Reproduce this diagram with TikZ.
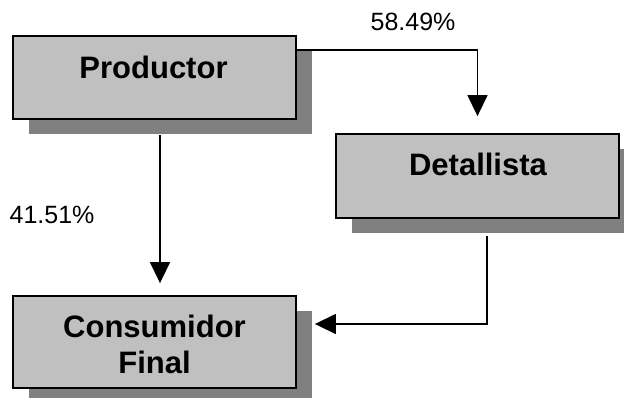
\documentclass[tikz,border=0pt]{standalone}
\usepackage{fontspec}
\setmainfont{Liberation Sans}
\usetikzlibrary{arrows.meta,shadows}
\definecolor{boxfill}{HTML}{C0C0C0}
\definecolor{boxshade}{HTML}{808080}
\begin{document}
\begin{tikzpicture}[x=1pt,y=-1pt,
  stagebox/.style={draw=black, line width=1.8pt, fill=boxfill,
    inner sep=0pt, minimum width=283pt,
    drop shadow={shadow xshift=16pt, shadow yshift=-15pt, fill=boxshade, opacity=1}},
  boxtext/.style={font=\fontsize{31}{36}\selectfont\bfseries, align=center, inner sep=0pt},
  pct/.style={font=\fontsize{25}{30}\selectfont, inner sep=0pt},
  flow/.style={line width=1.4pt, -{Triangle[length=21pt,width=20pt]}}]
\useasboundingbox (0,0) rectangle (624,397);

% stage boxes
\node[stagebox, minimum height=83pt] (prod) at (154.5,77.5) {};
\node[stagebox, minimum height=84pt] (det) at (477.5,176) {};
\node[stagebox, minimum height=92pt] (cons) at (154.5,342) {};

% box captions
\node[boxtext] (prodt) at (153.5,67) {Productor};
\node[boxtext] (dett) at (478,164) {Detallista};
\node[boxtext] (const) at (154.5,344) {Consumidor\\Final};

% flows
\coordinate (p1) at ([yshift=-15pt]prod.north east);
\coordinate (p2) at ([xshift=5.5pt,yshift=-15pt]prod.south);
\coordinate (d1) at ([xshift=9.5pt,yshift=-17pt]det.south);
\coordinate (c1) at ([yshift=18pt]cons.east);
\draw[flow, shorten >=17pt] (p1) -| (det.north);
\draw[flow, shorten >=12pt] (p2) -- ([xshift=5.5pt]cons.north);
\draw[flow, shorten >=18pt] (d1) |- (c1);

% shares
\node[pct] (share1) at (413,22) {58.49\%};
\node[pct] (share2) at (52,215) {41.51\%};
\end{tikzpicture}
\end{document}
